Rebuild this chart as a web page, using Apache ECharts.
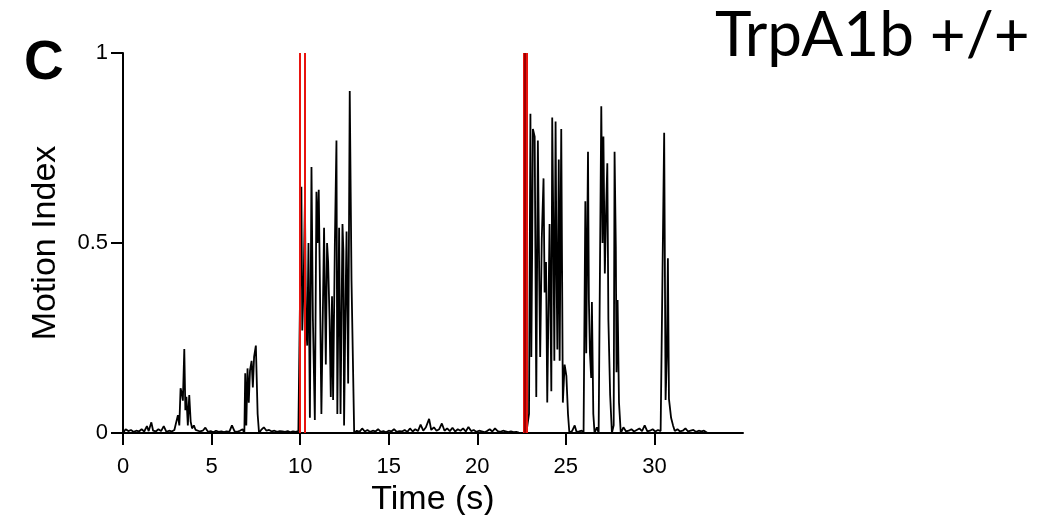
<!DOCTYPE html>
<html>
<head>
<meta charset="utf-8">
<script src="https://cdn.jsdelivr.net/npm/echarts@6/dist/echarts.min.js"></script>
<style>
html,body{margin:0;padding:0;background:#fff;}
#chart{width:1063px;height:515px;}
</style>
</head>
<body>
<div id="chart"></div>
<script>
// Time (s) of each sample
const timeSec = [
  0.0,0.15,0.3,0.45,0.6,0.75,0.9,1.05,1.2,1.35,1.45,1.6,1.7,1.85,2.0,2.15,2.3,2.45,2.6,2.75,2.9,3.0,
  3.1,3.18,3.25,3.32,3.38,3.46,3.52,3.58,3.66,3.74,3.82,3.9,4.0,4.1,4.2,4.35,4.5,4.65,4.8,4.95,5.1,5.25,5.4,5.55,5.7,5.85,6.0,6.15,6.3,6.45,6.6,6.75,
  6.85,6.9,6.96,7.03,7.1,7.17,7.26,7.33,7.4,7.5,7.6,7.68,7.8,7.95,8.1,8.25,8.4,8.55,8.7,8.85,9.0,9.15,9.3,9.45,9.6,9.75,9.9,
  10.0,10.07,10.12,10.2,10.27,10.33,10.4,10.47,10.55,10.64,10.72,10.83,10.92,10.98,11.05,11.1,11.2,11.35,11.45,11.52,11.58,11.66,11.73,11.8,11.86,11.96,12.05,12.1,12.2,12.28,12.39,12.44,12.48,12.55,12.62,12.71,12.8,12.9,13.05,
  13.2,13.35,13.5,13.65,13.8,13.95,14.1,14.25,14.4,14.55,14.7,14.85,15.0,15.15,15.3,15.45,15.6,15.75,15.9,16.05,16.2,16.35,16.5,16.65,16.8,16.95,17.1,17.28,17.4,17.55,17.7,17.85,18.0,18.15,18.3,18.45,18.6,18.75,18.9,19.05,19.2,19.35,19.5,19.65,19.8,19.95,20.1,20.25,20.4,20.55,20.7,20.85,21.0,21.15,21.3,21.45,21.6,21.75,21.9,22.05,22.2,22.35,22.5,22.65,
  22.8,22.92,23.0,23.05,23.1,23.14,23.24,23.33,23.42,23.5,23.55,23.64,23.74,23.8,23.88,23.95,24.08,24.18,24.23,24.3,24.35,24.42,24.47,24.52,24.6,24.65,24.74,24.83,24.93,25.03,25.12,25.2,25.35,25.5,25.6,25.75,25.9,
  26.0,26.1,26.15,26.25,26.3,26.36,26.43,26.47,26.55,26.62,26.75,26.85,27.0,27.07,27.12,27.2,27.28,27.34,27.4,27.5,27.6,27.7,27.75,27.82,27.86,27.92,28.0,28.1,28.25,28.4,28.55,28.7,28.85,29.0,29.15,29.3,29.45,29.6,29.75,29.9,30.05,30.2,30.35,30.45,
  30.55,30.63,30.7,30.76,30.82,30.94,31.05,31.15,31.3,31.45,31.6,31.75,31.9,32.05,32.2,32.35,32.5,32.65,32.8,32.9,33.0
];
// Motion index read at each time
const motionIndex = [
  0.0,0.01,0.005,0.008,0.003,0.006,0.004,0.01,0.004,0.018,0.005,0.028,0.006,0.004,0.01,0.005,0.018,0.003,0.006,0.004,0.008,0.006,
  0.047,0.02,0.118,0.105,0.085,0.221,0.06,0.095,0.02,0.1,0.03,0.012,0.02,0.008,0.01,0.004,0.006,0.014,0.003,0.005,0.002,0.006,0.003,0.004,0.002,0.004,0.003,0.02,0.004,0.003,0.006,0.01,
  0.0,0.157,0.02,0.17,0.08,0.165,0.19,0.12,0.2,0.23,0.05,0.0,0.008,0.015,0.006,0.008,0.004,0.006,0.003,0.005,0.004,0.003,0.005,0.002,0.004,0.003,0.005,
  0.01,0.648,0.27,0.4,0.61,0.29,0.23,0.5,0.04,0.70,0.3,0.034,0.635,0.5,0.64,0.455,0.05,0.54,0.18,0.5,0.45,0.3,0.095,0.36,0.087,0.5,0.77,0.05,0.54,0.05,0.55,0.48,0.02,0.3,0.53,0.13,0.90,0.4,0.0,
  0.006,0.003,0.012,0.004,0.008,0.003,0.006,0.004,0.01,0.003,0.005,0.002,0.006,0.004,0.01,0.003,0.005,0.004,0.008,0.003,0.012,0.004,0.01,0.005,0.022,0.006,0.015,0.037,0.008,0.015,0.006,0.01,0.025,0.006,0.012,0.005,0.014,0.004,0.01,0.006,0.012,0.004,0.016,0.005,0.008,0.003,0.006,0.004,0.002,0.005,0.01,0.004,0.012,0.005,0.003,0.006,0.004,0.002,0.004,0.002,0.003,0.001,0.0,0.0,
  0.01,0.05,0.84,0.2,0.5,0.80,0.78,0.095,0.77,0.4,0.2,0.51,0.67,0.37,0.45,0.08,0.55,0.11,0.83,0.51,0.19,0.82,0.45,0.22,0.72,0.19,0.80,0.08,0.18,0.15,0.05,0.0,0.005,0.02,0.003,0.004,0.006,
  0.0,0.61,0.21,0.74,0.35,0.21,0.145,0.345,0.05,0.0,0.015,0.0,0.86,0.5,0.78,0.42,0.6,0.71,0.30,0.1,0.0,0.02,0.74,0.49,0.16,0.35,0.08,0.0,0.015,0.004,0.006,0.01,0.004,0.008,0.012,0.005,0.02,0.004,0.006,0.01,0.004,0.008,0.005,0.01,
  0.79,0.087,0.2,0.46,0.09,0.04,0.02,0.005,0.01,0.004,0.006,0.012,0.004,0.006,0.008,0.003,0.006,0.004,0.006,0.002,0.0
];
// Stimulus markers (s)
const stimulusTimes = [10.0, 10.28, 22.6, 22.78];
const stimulusCenters = [22.69];
const xTickValues = [0, 5, 10, 15, 20, 25, 30];
const yTickValues = [0, 0.5, 1];

const chart = echarts.init(document.getElementById('chart'), null, {renderer: 'canvas'});
const points = timeSec.map((t, i) => [t, motionIndex[i]]);
const marks = stimulusTimes.map(t => ({xAxis: t, lineStyle: {color: '#e8140f', width: 2, type: 'solid'}}))
  .concat(stimulusCenters.map(t => ({xAxis: t, lineStyle: {color: '#a00000', width: 2, type: 'solid'}})));

const font = '"Liberation Sans", Arial, sans-serif';
chart.setOption({
  animation: false,
  backgroundColor: '#ffffff',
  title: {
    text: 'TrpA1b +/+',
    left: 710, top: 0,
    textStyle: {fontFamily: 'Lato, "Open Sans", sans-serif', fontSize: 62, fontWeight: 'normal', color: '#000'}
  },
  graphic: [{
    type: 'text', left: 24, top: 36,
    style: {text: 'C', fontFamily: font, fontSize: 55, fontWeight: 'bold', fill: '#000'}
  }],
  grid: {left: 123, right: 320, top: 53, bottom: 82, containLabel: false, outerBoundsMode: 'none'},
  xAxis: {
    type: 'value', min: 0, max: 35, interval: 5,
    name: 'Time (s)', nameLocation: 'middle', nameGap: 44,
    nameTextStyle: {fontFamily: font, fontSize: 34, color: '#000'},
    axisLine: {show: true, onZero: false, lineStyle: {color: '#000', width: 2}},
    axisTick: {show: true, length: 12, customValues: xTickValues, lineStyle: {color: '#000', width: 2}},
    axisLabel: {show: true, customValues: xTickValues, margin: 23, fontFamily: font, fontSize: 22, color: '#000'},
    splitLine: {show: false}
  },
  yAxis: {
    type: 'value', min: 0, max: 1, interval: 0.5,
    name: 'Motion Index', nameLocation: 'middle', nameGap: 60,
    nameTextStyle: {fontFamily: font, fontSize: 34, color: '#000'},
    axisLine: {show: true, lineStyle: {color: '#000', width: 2}},
    axisTick: {show: true, length: 12, customValues: yTickValues, lineStyle: {color: '#000', width: 2}},
    axisLabel: {show: true, customValues: yTickValues, margin: 15, fontFamily: font, fontSize: 22, color: '#000'},
    splitLine: {show: false}
  },
  series: [{
    type: 'line',
    data: points,
    showSymbol: false,
    symbol: 'none',
    lineStyle: {color: '#000', width: 1.8},
    z: 3,
    markLine: {
      silent: true, symbol: 'none', animation: false,
      label: {show: false},
      data: marks,
      z: 4
    }
  }]
});
</script>
</body>
</html>
